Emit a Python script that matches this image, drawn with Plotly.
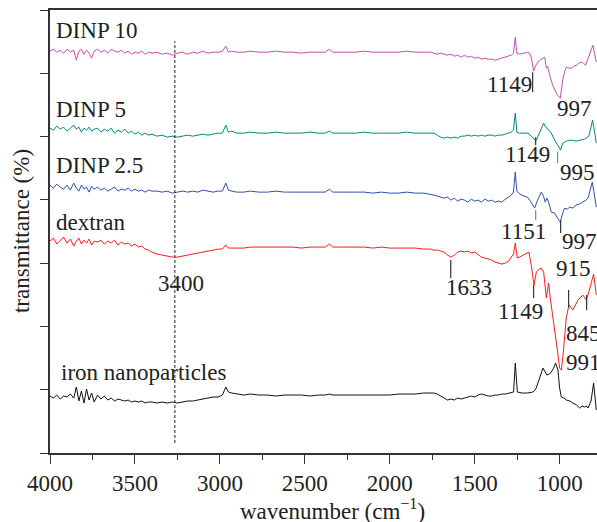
import plotly.graph_objects as go

# ---------------- data (wavenumber in cm^-1, transmittance in arbitrary stacked units) -------------
wn_left = [4000, 3980, 3960, 3940, 3920, 3900, 3880, 3860, 3845, 3830, 3815, 3800, 3785, 3770, 3755, 3740,
           3720, 3700, 3680, 3660, 3640, 3620, 3600, 3580, 3560, 3540, 3520, 3500, 3480, 3460, 3440, 3420, 3400,
           3370, 3340, 3310, 3280, 3250, 3220, 3190, 3160, 3130, 3100, 3070, 3040, 3010,
           2985, 2965, 2950, 2930, 2900, 2860, 2820,
           2770, 2720, 2670, 2620, 2570, 2520, 2470, 2420,
           2380, 2355, 2335, 2300,
           2250, 2200, 2150, 2100, 2050, 2000, 1950, 1900, 1850, 1800,
           1760, 1740, 1720, 1700, 1680, 1660, 1640, 1620, 1600, 1580, 1560, 1540, 1520, 1500, 1480, 1460,
           1440, 1420, 1400, 1380, 1360, 1340, 1320, 1300]

dinp10_left = [402, 404, 401, 403, 400, 404, 401, 403, 393, 402, 404, 399, 403, 400, 395, 402,
               404, 401, 403, 400, 404, 402, 401, 403, 400, 402, 399, 401, 400, 402, 399, 401, 400,
               401, 399, 400, 398, 400, 401, 399, 401, 400, 402, 400, 401, 401,
               402, 407, 401, 402, 401, 401, 402,
               401, 401, 402, 401, 401, 400, 401, 401,
               401, 404, 401, 401,
               401, 401, 402, 401, 401, 401, 401, 402, 401, 401,
               401, 400, 399, 400, 399, 398, 399, 397, 398, 396, 398, 396, 397, 395, 396, 394,
               395, 394, 394, 393, 394, 395, 396, 397]
dinp10_wn_right = [1285, 1272, 1261, 1252, 1235, 1210, 1190, 1176, 1165, 1153, 1140, 1118, 1100, 1088, 1078,
                   1071, 1055, 1041, 1025, 1012, 996, 982, 970, 960, 945, 931, 915, 902, 887, 872, 860, 847,
                   830, 815, 804, 795, 784]
dinp10_right = [398, 400, 416, 400, 399, 400, 401, 400, 394, 382, 388, 393, 395, 396, 385,
                387, 376, 368, 362, 358, 355, 373, 382, 386, 385, 385, 387, 388, 390, 391, 390, 388,
                396, 402, 408, 400, 391]

dinp5_left = [325, 323, 327, 324, 326, 322, 325, 328, 324, 326, 321, 325, 323, 326, 322, 324,
              325, 321, 324, 322, 325, 320, 323, 321, 324, 320, 322, 319, 321, 318, 320, 318, 319,
              317, 318, 316, 317, 316, 317, 318, 317, 318, 319, 318, 319, 320,
              320, 328, 321, 322, 320, 320, 321,
              320, 320, 321, 320, 320, 320, 321, 320,
              320, 322, 320, 320,
              320, 320, 321, 320, 320, 320, 320, 321, 320, 320,
              320, 320, 318, 316, 315, 316, 315, 316, 315, 317, 317, 318, 317, 318, 317, 318,
              317, 318, 318, 317, 318, 318, 319, 320]
dinp5_wn_right = [1285, 1272, 1261, 1252, 1235, 1210, 1186, 1166, 1150, 1137, 1118, 1094, 1085, 1075, 1049,
                  1029, 1004, 994, 982, 960, 931, 902, 880, 853, 828, 806, 795, 784]
dinp5_right = [321, 323, 340, 321, 320, 320, 320, 317, 314, 313, 321, 330, 327, 325, 320,
               313, 306, 303, 310, 312, 313, 312, 313, 314, 317, 333, 322, 310]

dinp25_left = [268, 265, 269, 266, 264, 268, 263, 270, 265, 262, 268, 264, 266, 261, 267, 264,
               266, 263, 265, 262, 264, 266, 262, 264, 263, 265, 262, 264, 262, 263, 261, 263, 262,
               262, 261, 262, 260, 261, 262, 261, 262, 261, 263, 262, 261, 262,
               262, 270, 263, 262, 261, 261, 262,
               261, 261, 262, 261, 261, 261, 261, 261,
               261, 264, 261, 261,
               261, 261, 261, 260, 261, 260, 260, 261, 260, 260,
               259, 258, 257, 256, 255, 256, 253, 255, 252, 254, 253, 251, 254, 252, 253, 251,
               254, 252, 253, 251, 252, 251, 254, 256]
dinp25_wn_right = [1285, 1272, 1261, 1252, 1235, 1210, 1190, 1176, 1160, 1147, 1130, 1108, 1095, 1085, 1075,
                   1065, 1049, 1029, 1016, 996, 982, 971, 955, 941, 920, 906, 885, 863, 845, 833, 808, 795, 784]
dinp25_right = [258, 261, 281, 262, 259, 257, 256, 253, 249, 245, 253, 261, 257, 251, 255,
                251, 241, 240, 236, 231, 240, 245, 244, 246, 245, 248, 249, 251, 253, 255, 271, 258, 246]

dextran_left = [212, 215, 209, 213, 216, 210, 214, 207, 212, 215, 209, 213, 210, 214, 208, 212,
                211, 213, 209, 212, 210, 213, 208, 211, 209, 210, 207, 209, 206, 207, 204, 203, 201,
                199, 198, 197, 196, 196, 197, 198, 199, 200, 201, 202, 203, 204,
                204, 208, 205, 205, 205, 205, 206,
                206, 206, 206, 206, 206, 205, 206, 206,
                206, 209, 206, 206,
                206, 206, 206, 205, 206, 205, 205, 205, 205, 204,
                204, 203, 203, 202, 201, 198, 196, 198, 201, 202, 201, 202, 200, 201, 198, 196,
                195, 194, 193, 191, 190, 189, 190, 192]
dextran_wn_right = [1285, 1271, 1261, 1249, 1225, 1200, 1181, 1167, 1151, 1137, 1120, 1108, 1094, 1078, 1065,
                    1055, 1042, 1029, 1015, 1000, 990, 980, 961, 945, 922, 892, 863, 843, 828, 800, 784]
dextran_right = [196, 199, 210, 195, 197, 199, 201, 188, 168, 181, 184, 185, 181, 155, 170,
                 155, 140, 125, 105, 85, 83, 98, 135, 148, 143, 153, 158, 153, 161, 179, 158]

iron_left = [57, 55, 58, 54, 57, 56, 59, 55, 66, 52, 62, 50, 64, 53, 60, 51,
             58, 54, 57, 53, 55, 52, 54, 53, 52, 53, 51, 52, 51, 52, 50, 51, 51,
             50, 51, 50, 51, 50, 51, 52, 52, 53, 54, 55, 56, 56,
             58, 66, 61, 60, 59, 58, 59,
             58, 58, 57, 58, 58, 58, 57, 58,
             58, 59, 58, 58,
             58, 58, 58, 58, 58, 58, 59, 59, 59, 60,
             60, 60, 59, 57, 55, 53, 54, 53, 55, 54, 55, 56, 57, 56, 58, 59,
             58, 57, 57, 58, 58, 59, 59, 60]
iron_wn_right = [1285, 1271, 1261, 1249, 1220, 1190, 1157, 1140, 1128, 1110, 1098, 1085, 1075, 1060, 1049,
                 1035, 1024, 1010, 1000, 990, 975, 960, 940, 922, 900, 882, 868, 853, 843, 833, 815, 800, 790, 784]
iron_right = [60, 61, 90, 61, 60, 60, 61, 64, 70, 80, 85, 81, 78, 79, 81,
              85, 90, 83, 65, 56, 55, 53, 52, 50, 48, 45, 47, 46, 47, 45, 52, 70, 55, 43]

series_names = ["DINP 10", "DINP 5", "DINP 2.5", "dextran", "iron nanoparticles"]
series_left = [dinp10_left, dinp5_left, dinp25_left, dextran_left, iron_left]
series_wn_right = [dinp10_wn_right, dinp5_wn_right, dinp25_wn_right, dextran_wn_right, iron_wn_right]
series_right = [dinp10_right, dinp5_right, dinp25_right, dextran_right, iron_right]
series_colors = ["#c24fb0", "#00897f", "#2f4fae", "#ff1a1a", "#111111"]

# series label anchors (wavenumber, level)
label_wn = [3975, 3975, 3975, 3975, 3945]
label_h = [423, 344, 288, 231, 81]

# peak labels
peak_text = ["1149", "997", "1149", "995", "1151", "997", "1633", "1149", "915", "845", "991", "3400"]
peak_wn = [1294, 912, 1188, 894, 1212, 882, 1535, 1229, 918, 859, 859, 3229]
peak_h = [369, 345, 299, 281, 222, 212, 166, 142, 185, 120, 91, 170]

# peak marker ticks (wavenumber, top level, bottom level)
mark_wn = [1159, 1141, 1012, 1141, 994, 1641, 1153, 947, 841]
mark_top = [381, 316, 301, 243, 233, 193, 168, 163, 158]
mark_bot = [361, 308, 290, 233, 220, 175, 155, 146, 143]
mark_color = ["#333", "#333", "#888", "#888", "#333", "#333", "#333", "#333", "#333"]

# dashed guide line at the O-H band
guide_wn = 3265
guide_h = [10, 412]

FONT = "Liberation Serif, Times New Roman, serif"

fig = go.Figure()
for name, left, wnr, right, col in zip(series_names, series_left, series_wn_right, series_right, series_colors):
    assert len(left) == len(wn_left), name
    assert len(wnr) == len(right), name
    fig.add_trace(go.Scatter(x=wn_left + wnr, y=left + right, mode="lines", name=name,
                             line=dict(color=col, width=1), showlegend=False))

annotations = []
for name, w, h in zip(series_names, label_wn, label_h):
    annotations.append(dict(x=w, y=h, xref="x", yref="y", text=name, showarrow=False,
                            xanchor="left", yanchor="middle", font=dict(family=FONT, size=23, color="#222")))
for t, w, h in zip(peak_text, peak_wn, peak_h):
    annotations.append(dict(x=w, y=h, xref="x", yref="y", text=t, showarrow=False,
                            xanchor="center", yanchor="middle", font=dict(family=FONT, size=23, color="#222")))
annotations.append(dict(x=0.517, y=-0.128, xref="paper", yref="paper", text="wavenumber (cm<sup>−1</sup>)",
                        showarrow=False, xanchor="center", yanchor="middle",
                        font=dict(family=FONT, size=23, color="#222")))
annotations.append(dict(x=-0.052, y=0.5, xref="paper", yref="paper", text="transmittance (%)",
                        showarrow=False, textangle=-90, xanchor="center", yanchor="middle",
                        font=dict(family=FONT, size=23, color="#222")))

shapes = []
for w, a, b, c in zip(mark_wn, mark_top, mark_bot, mark_color):
    shapes.append(dict(type="line", xref="x", yref="y", x0=w, x1=w, y0=a, y1=b,
                       line=dict(color=c, width=1.2)))
shapes.append(dict(type="line", xref="x", yref="y", x0=guide_wn, x1=guide_wn, y0=guide_h[0], y1=guide_h[1],
                   line=dict(color="#222", width=1, dash="3px,2px")))

fig.update_layout(
    width=597, height=522,
    margin=dict(l=50, r=0, t=10, b=69),
    paper_bgcolor="white", plot_bgcolor="white",
    annotations=annotations, shapes=shapes,
    font=dict(family=FONT, size=23, color="#222"),
)
fig.update_xaxes(range=[4000, 780], showgrid=False, zeroline=False,
                 showline=True, linecolor="#333", linewidth=1.5, mirror=True,
                 ticks="outside", ticklen=9, tickwidth=1.3, tickcolor="#333",
                 tick0=0, dtick=500, tickfont=dict(family=FONT, size=23, color="#222"),
                 minor=dict(ticks="outside", ticklen=5, tickwidth=1.3, tickcolor="#333", dtick=250, tick0=0))
fig.update_yaxes(range=[0, 443.2], showgrid=False, zeroline=False,
                 showline=True, linecolor="#333", linewidth=1.5, mirror=False,
                 ticks="outside", ticklen=8, tickwidth=1.3, tickcolor="#333",
                 tick0=0, dtick=63.3, showticklabels=False)

fig.write_html("out.html", config={"displayModeBar": False},
               post_script="document.body.style.margin='0';document.body.style.overflow='hidden';")
